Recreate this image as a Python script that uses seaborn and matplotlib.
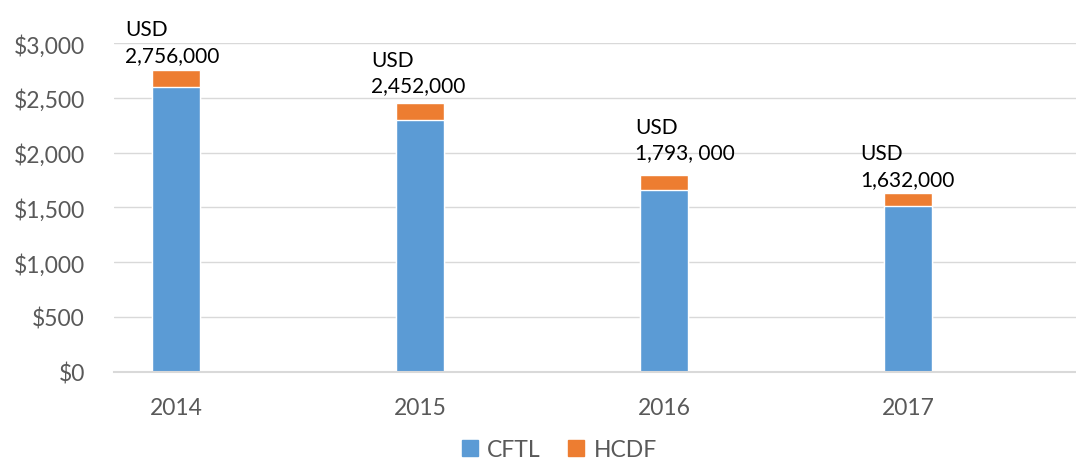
import pandas as pd
import matplotlib
matplotlib.use("Agg")
import matplotlib.pyplot as plt
import seaborn as sns
from matplotlib.ticker import FuncFormatter
from matplotlib.patches import Patch

# -----------------------------
# Data (thousand USD)
# -----------------------------
years = ["2014", "2015", "2016", "2017"]
cftl = [2600, 2300, 1660, 1510]
hcdf = [156, 152, 133, 122]
labels = ["USD\n2,756,000", "USD\n2,452,000", "USD\n1,793, 000", "USD\n1,632,000"]

df = pd.DataFrame({"year": years, "CFTL": cftl, "HCDF": hcdf})
df["total"] = df["CFTL"] + df["HCDF"]

blue = "#5B9BD5"
orange = "#ED7D31"
grey = "#595959"

sns.set_style("white")
plt.rcParams["font.family"] = ["Lato", "DejaVu Sans"]

fig = plt.figure(figsize=(10.76, 4.6), dpi=100)
ax = fig.add_axes([0.106, 0.19, 0.894, 0.7137])

# stacked: total (orange) underneath, CFTL (blue) on top of it
sns.barplot(data=df, x="year", y="total", color=orange, width=0.197,
            saturation=1, ax=ax, zorder=3)
sns.barplot(data=df, x="year", y="CFTL", color=blue, width=0.197,
            saturation=1, ax=ax, zorder=3)

ax.set_ylim(0, 3000)
ax.set_xlim(-0.254, 3.689)
ax.set_yticks(range(0, 3001, 500))
ax.yaxis.set_major_formatter(FuncFormatter(lambda v, p: f"${v:,.0f}"))
ax.grid(axis="y", color="#D9D9D9", linewidth=1, zorder=0)
ax.set_axisbelow(True)
for s in ["top", "right", "left"]:
    ax.spines[s].set_visible(False)
ax.spines["bottom"].set_color("#D9D9D9")
ax.spines["bottom"].set_linewidth(1.5)
ax.spines["bottom"].set_zorder(4)
ax.tick_params(axis="y", length=0, pad=21, labelsize=16.5, labelcolor=grey)
ax.tick_params(axis="x", length=0, pad=18.5, labelsize=16.5, labelcolor=grey)
ax.set_xlabel("")
ax.set_ylabel("")

# labels above bars (left edge / gap in pixels, hand placed like the original)
offsets = [(-51, 5), (-49, 8), (-29, 13), (-48, 4)]
for i, (lab, tot) in enumerate(zip(labels, df["total"])):
    dx, dy = offsets[i]
    ax.annotate(lab, xy=(i, tot), xytext=(dx, dy), textcoords="offset pixels",
                ha="left", va="bottom", fontsize=15, color="black",
                linespacing=1.35, annotation_clip=False)

handles = [Patch(color=blue, label="CFTL"), Patch(color=orange, label="HCDF")]
fig.legend(handles=handles, loc="lower center", bbox_to_anchor=(0.52, -0.048),
           ncol=2, frameon=False, fontsize=16.5, labelcolor=grey,
           handlelength=0.7, handleheight=0.7, handletextpad=0.4,
           columnspacing=1.2)

fig.savefig("out.png", dpi=100)
